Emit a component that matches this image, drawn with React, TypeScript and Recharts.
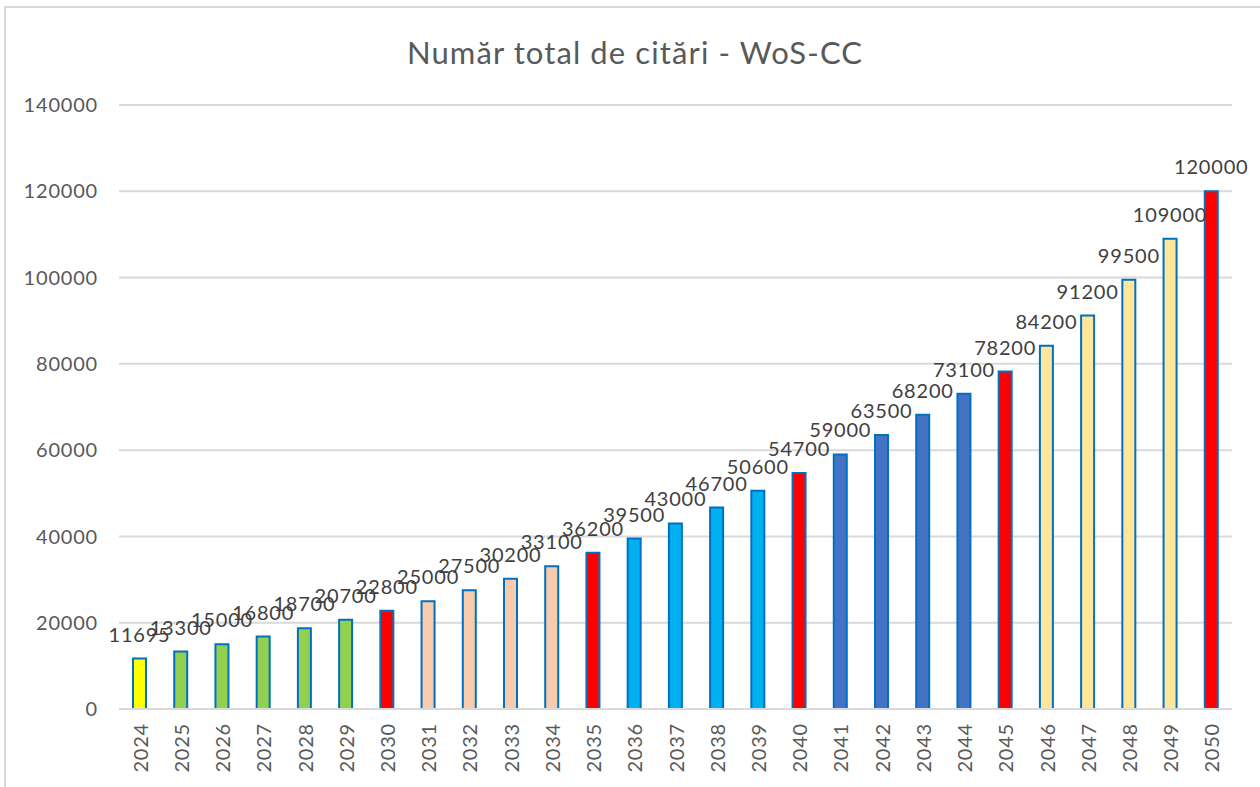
import { BarChart, Bar, XAxis, YAxis, CartesianGrid, Cell, LabelList } from "recharts";

const years = [
  "2024", "2025", "2026", "2027", "2028", "2029", "2030", "2031", "2032",
  "2033", "2034", "2035", "2036", "2037", "2038", "2039", "2040", "2041",
  "2042", "2043", "2044", "2045", "2046", "2047", "2048", "2049", "2050",
];

const citations = [
  11695, 13300, 15000, 16800, 18700, 20700, 22800, 25000, 27500,
  30200, 33100, 36200, 39500, 43000, 46700, 50600, 54700, 59000,
  63500, 68200, 73100, 78200, 84200, 91200, 99500, 109000, 120000,
];

const yTicks = [0, 20000, 40000, 60000, 80000, 100000, 120000, 140000];

const title = "Număr total de citări - WoS-CC";

const FONT = "Lato, 'Open Sans', sans-serif";

// milestone years (2030, 2035, ...) are red, the rest coloured by block
function barColor(year: string) {
  const y = Number(year);
  if (y >= 2030 && y % 5 === 0) return "#FF0000";
  if (y === 2024) return "#FFFF00";
  if (y < 2030) return "#92D050";
  if (y < 2035) return "#F8CBAD";
  if (y < 2040) return "#00B0F0";
  if (y < 2045) return "#4472C4";
  return "#FFE699";
}

const data = years.map((year, i) => ({ year, value: citations[i] }));

function YearTick(props: any) {
  const { x, y, payload } = props;
  return (
    <g transform={`translate(${x},${y})`}>
      <text
        transform="rotate(-90)"
        textAnchor="end"
        dominantBaseline="central"
        fill="#595959"
        fontSize={20}
        letterSpacing={0.8}
        fontFamily={FONT}
      >
        {payload.value}
      </text>
    </g>
  );
}

export default function App() {
  return (
    <div
      style={{
        position: "absolute",
        left: 0,
        top: 0,
        width: 1260,
        height: 787,
        overflow: "hidden",
        background: "#fff",
      }}
    >
      <div
        style={{
          position: "absolute",
          left: 4,
          top: 6,
          width: 1400,
          height: 900,
          border: "2px solid #d9d9d9",
        }}
      />
      <div style={{ position: "absolute", left: 0, top: 0 }}>
        <BarChart
          width={1260}
          height={787}
          data={data}
          margin={{ top: 105, right: 28, bottom: 0, left: 19 }}
          barCategoryGap={0}
        >
          <CartesianGrid vertical={false} stroke="#d9d9d9" strokeWidth={2} />
          <XAxis
            dataKey="year"
            interval={0}
            height={78}
            tickSize={0}
            tickMargin={14}
            axisLine={{ stroke: "#d9d9d9", strokeWidth: 2 }}
            tickLine={false}
            tick={<YearTick />}
          />
          <YAxis
            width={100}
            domain={[0, 140000]}
            ticks={yTicks}
            interval={0}
            axisLine={false}
            tickLine={false}
            tickSize={0}
            tickMargin={21}
            tick={{ fill: "#595959", fontSize: 20, fontFamily: FONT, letterSpacing: 0.8 }}
          />
          <Bar
            dataKey="value"
            barSize={13}
            stroke="#0070C0"
            strokeWidth={2}
            isAnimationActive={false}
          >
            {data.map((d) => (
              <Cell key={d.year} fill={barColor(d.year)} />
            ))}
            <LabelList
              dataKey="value"
              position="top"
              offset={17}
              fill="#404040"
              fontSize={20}
              letterSpacing={0.8}
              fontFamily={FONT}
            />
          </Bar>
        </BarChart>
      </div>
      <svg
        width={1260}
        height={90}
        style={{ position: "absolute", left: 0, top: 0 }}
      >
        <text
          x={635}
          y={64}
          textAnchor="middle"
          fill="#595959"
          fontSize={31}
          letterSpacing={1.1}
          fontFamily={FONT}
        >
          {title}
        </text>
      </svg>
    </div>
  );
}
